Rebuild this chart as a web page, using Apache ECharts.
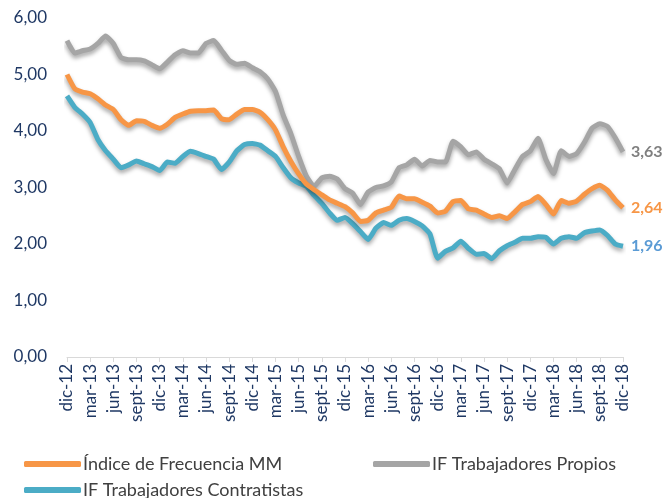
<!DOCTYPE html>
<html>
<head>
<meta charset="utf-8">
<script src="https://cdn.jsdelivr.net/npm/echarts@6/dist/echarts.min.js"></script>
<style>
  html, body { margin: 0; padding: 0; background: #fff; }
  #main { width: 668px; height: 498px; }
</style>
</head>
<body>
<div id="main"></div>
<script>
  // monthly, dic-12 .. dic-18
  var meses = ['ene', 'feb', 'mar', 'abr', 'may', 'jun', 'jul', 'ago', 'sept', 'oct', 'nov', 'dic'];
  var categorias = [];
  for (var k = 0; k < 73; k++) {
    var m = (11 + k) % 12;
    var a = 12 + Math.floor((11 + k) / 12);
    categorias.push(meses[m] + '-' + a);
  }

  var indiceMM = [
    5.00, 4.75, 4.69, 4.66, 4.57, 4.46, 4.38, 4.20, 4.10, 4.18, 4.17, 4.10,
    4.05, 4.12, 4.24, 4.30, 4.35, 4.36, 4.36, 4.37, 4.22, 4.20, 4.30, 4.38,
    4.38, 4.33, 4.20, 4.02, 3.72, 3.46, 3.24, 3.06, 2.96, 2.87, 2.78, 2.72,
    2.66, 2.55, 2.40, 2.42, 2.55, 2.60, 2.65, 2.85, 2.80, 2.80, 2.74, 2.67,
    2.55, 2.58, 2.75, 2.77, 2.62, 2.60, 2.53, 2.47, 2.50, 2.45, 2.57, 2.70,
    2.75, 2.84, 2.70, 2.53, 2.77, 2.72, 2.76, 2.88, 2.98, 3.04, 2.95, 2.78,
    2.64
  ];
  var propios = [
    5.60, 5.38, 5.42, 5.45, 5.55, 5.68, 5.55, 5.30, 5.26, 5.26, 5.24, 5.17,
    5.10, 5.22, 5.35, 5.42, 5.38, 5.38, 5.55, 5.60, 5.43, 5.25, 5.18, 5.20,
    5.12, 5.05, 4.92, 4.70, 4.28, 3.95, 3.55, 3.20, 3.02, 3.17, 3.20, 3.15,
    2.98, 2.90, 2.70, 2.92, 3.00, 3.03, 3.10, 3.35, 3.40, 3.50, 3.38, 3.48,
    3.45, 3.45, 3.82, 3.72, 3.58, 3.63, 3.50, 3.42, 3.33, 3.08, 3.32, 3.55,
    3.65, 3.87, 3.50, 3.25, 3.65, 3.55, 3.60, 3.80, 4.05, 4.13, 4.08, 3.88,
    3.63
  ];
  var contratistas = [
    4.62, 4.42, 4.30, 4.15, 3.85, 3.65, 3.50, 3.35, 3.40, 3.47, 3.42, 3.37,
    3.30, 3.45, 3.43, 3.55, 3.64, 3.60, 3.55, 3.50, 3.32, 3.45, 3.65, 3.76,
    3.78, 3.75, 3.65, 3.55, 3.35, 3.17, 3.08, 3.02, 2.86, 2.72, 2.55, 2.42,
    2.47, 2.36, 2.22, 2.08, 2.28, 2.38, 2.33, 2.42, 2.45, 2.40, 2.32, 2.18,
    1.75, 1.87, 1.93, 2.05, 1.92, 1.82, 1.83, 1.74, 1.88, 1.97, 2.03, 2.10,
    2.10, 2.13, 2.12, 2.00, 2.10, 2.13, 2.10, 2.20, 2.23, 2.25, 2.15, 2.00,
    1.96
  ];

  var nombres = ['Índice de Frecuencia MM', 'IF Trabajadores Propios', 'IF Trabajadores Contratistas'];
  var colores = ['#f79646', '#a5a5a5', '#4bacc6'];
  var coloresEtiqueta = ['#f79646', '#7f7f7f', '#5b9bd5'];
  var fuente = 'Lato, "Open Sans", sans-serif';

  function coma(v) { return v.toFixed(2).replace('.', ','); }

  function serie(i, datos) {
    return {
      name: nombres[i],
      type: 'line',
      data: datos,
      symbol: 'none',
      smooth: 0.15,
      z: 3 - i,
      lineStyle: {
        width: 5,
        color: colores[i],
        shadowColor: 'rgba(0,0,0,0.35)',
        shadowBlur: 4,
        shadowOffsetY: 3
      },
      itemStyle: { color: colores[i] },
      endLabel: {
        show: true,
        formatter: function (p) { return coma(p.value); },
        color: coloresEtiqueta[i],
        fontFamily: fuente,
        fontWeight: 'bold',
        fontSize: 16,
        distance: 8
      }
    };
  }

  function leyenda(i, left, top) {
    return {
      data: [nombres[i]],
      left: left,
      top: top,
      icon: 'roundRect',
      itemWidth: 57,
      itemHeight: 6,
      itemGap: 0,
      textStyle: { color: '#404040', fontFamily: fuente, fontSize: 18, padding: [0, 0, 0, -3] }
    };
  }

  var myEchart = echarts.init(document.getElementById('main'));
  window.addEventListener('resize', myEchart.resize);
  myEchart.setOption({
    animation: false,
    color: colores,
    grid: { left: 67, right: 45, top: 18, bottom: 141, containLabel: false },
    legend: [
      leyenda(0, 19, 450),
      leyenda(2, 19, 476),
      leyenda(1, 368, 450)
    ],
    xAxis: {
      type: 'category',
      boundaryGap: false,
      data: categorias,
      axisLine: { lineStyle: { color: '#d9d9d9', width: 1 } },
      axisTick: { show: true, interval: 2, length: 5, lineStyle: { color: '#d9d9d9' } },
      axisLabel: {
        interval: 2,
        rotate: 90,
        color: '#1f3864',
        fontFamily: fuente,
        fontSize: 17,
        margin: 7
      },
      splitLine: { show: false }
    },
    yAxis: {
      type: 'value',
      min: 0,
      max: 6,
      interval: 1,
      axisLine: { show: false },
      axisTick: { show: false },
      splitLine: { show: false },
      axisLabel: {
        color: '#1f3864',
        fontFamily: fuente,
        fontSize: 17,
        margin: 20,
        formatter: function (v) { return coma(v); }
      }
    },
    series: [
      serie(0, indiceMM),
      serie(1, propios),
      serie(2, contratistas)
    ]
  });
</script>
</body>
</html>
